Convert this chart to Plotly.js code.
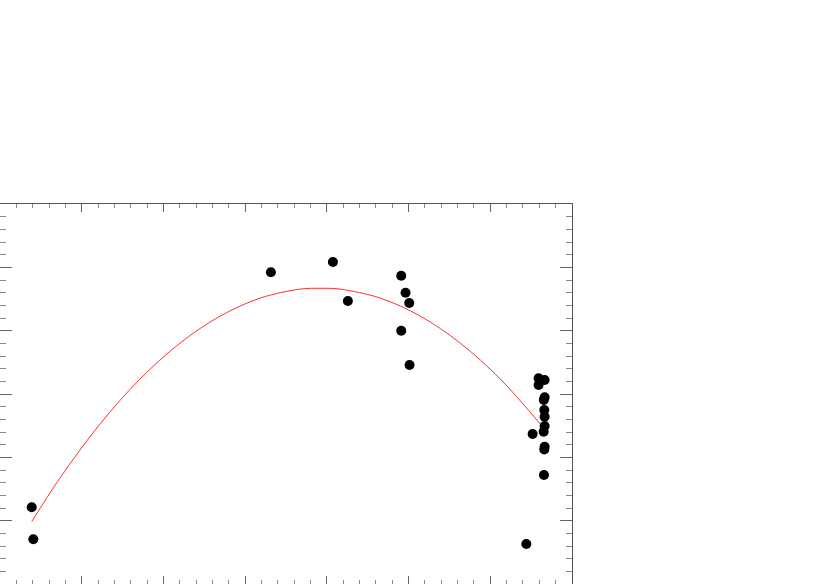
<!DOCTYPE html>
<html>
<head>
<meta charset="utf-8">
<script src="https://cdn.plot.ly/plotly-3.0.1.min.js"></script>
<style>html,body{margin:0;padding:0;background:#fff;}#chart{width:817px;height:584px;}</style>
</head>
<body>
<div id="chart"></div>
<script>
// Observed points
const pointsX = [0.388, 0.408, 3.315, 4.074, 4.257, 4.910, 4.963, 5.008, 4.910, 5.012,
                 6.441, 6.518, 6.591, 6.665, 6.591, 6.665, 6.655, 6.661, 6.665, 6.665,
                 6.653, 6.665, 6.661, 6.657];
const pointsY = [1.211, 0.706, 4.922, 5.084, 4.469, 4.868, 4.600, 4.437, 4.000, 3.458,
                 0.632, 2.369, 3.248, 3.221, 3.142, 2.948, 2.905, 2.747, 2.642, 2.495,
                 2.405, 2.168, 2.124, 1.721];
// Fitted curve
const curveX = [0.388, 0.735, 1.224, 1.714, 2.204, 2.694, 3.184, 3.673, 3.918, 4.163, 4.653, 5.143, 5.632, 6.122, 6.624];
const curveY = [0.984, 1.675, 2.526, 3.237, 3.804, 4.230, 4.514, 4.656, 4.669, 4.656, 4.514, 4.230, 3.804, 3.237, 2.507];

const data = [
  {x: curveX, y: curveY, type: 'scatter', mode: 'lines',
   line: {color: '#ff3030', width: 1, shape: 'spline'}, hoverinfo: 'skip'},
  {x: pointsX, y: pointsY, type: 'scatter', mode: 'markers',
   marker: {color: '#000000', size: 10}}
];

const axisCommon = {
  showgrid: false, zeroline: false, showticklabels: false,
  showline: true, linecolor: '#555', linewidth: 1, mirror: 'ticks',
  ticks: 'inside', tickcolor: '#666', tickwidth: 1
};

const layout = {
  width: 817, height: 584,
  margin: {l: 0, r: 245, t: 204, b: 0},
  paper_bgcolor: '#fff', plot_bgcolor: '#fff',
  showlegend: false,
  xaxis: Object.assign({}, axisCommon, {
    range: [0, 7], dtick: 1, tick0: 0, ticklen: 8,
    minor: {dtick: 0.2, ticks: 'inside', ticklen: 4, tickcolor: '#888', showgrid: false}
  }),
  yaxis: Object.assign({}, axisCommon, {
    range: [0, 6], dtick: 1, tick0: 0, ticklen: 12,
    minor: {dtick: 0.2, ticks: 'inside', ticklen: 6, tickcolor: '#888', showgrid: false}
  })
};

Plotly.newPlot('chart', data, layout, {displayModeBar: false, staticPlot: true});
</script>
</body>
</html>
